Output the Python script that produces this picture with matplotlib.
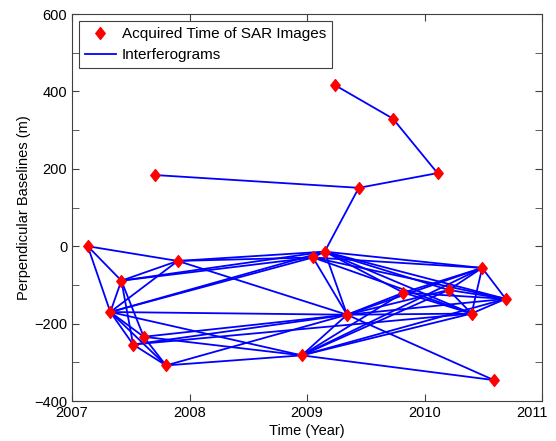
import matplotlib.pyplot as plt
from matplotlib.path import Path
from matplotlib.ticker import MultipleLocator

plt.rcParams['font.family'] = ['Liberation Sans', 'DejaVu Sans']

# acquisition time (decimal year) and perpendicular baseline (m)
dates = [2007.134, 2007.326, 2007.42, 2007.52, 2007.61, 2007.71, 2007.80, 2007.90,
         2008.955, 2009.05, 2009.15, 2009.24, 2009.34, 2009.44, 2009.73, 2009.82,
         2010.11, 2010.205, 2010.40, 2010.49, 2010.59, 2010.69]
bperp = [0, -170, -89, -254, -234, 184, -308, -38,
         -282, -29, -14, 416, -177, 151, 330, -120,
         189, -113, -174, -56, -346, -136]
years = [2007, 2008, 2009, 2010, 2011]

# interferogram pairs (indices into dates/bperp)
pairs = [(0, 7), (0, 2), (0, 1),
         (2, 7), (1, 2), (2, 4), (2, 3), (2, 9), (2, 10),
         (1, 7), (1, 4), (1, 3), (1, 6), (1, 9), (1, 10), (1, 12), (1, 8),
         (7, 9), (7, 10), (7, 12),
         (4, 6), (4, 12), (4, 8),
         (3, 6), (3, 12), (3, 18),
         (6, 8), (6, 12),
         (8, 12), (8, 15), (8, 17), (8, 19), (8, 18), (8, 21), (8, 20),
         (9, 10), (9, 12), (9, 18), (9, 21), (9, 19),
         (10, 12), (10, 19), (10, 21), (10, 18), (10, 17), (10, 15), (10, 13),
         (12, 15), (12, 17), (12, 19), (12, 21), (12, 18), (12, 20),
         (15, 19), (15, 21), (15, 18),
         (17, 19), (17, 21), (17, 18),
         (19, 21), (18, 19), (18, 21),
         (5, 13), (13, 16), (16, 14), (14, 11)]

# matlab-like diamond, a bit taller than wide
diamond = Path([(0, 1), (0.8, 0), (0, -1), (-0.8, 0), (0, 1)],
               [Path.MOVETO, Path.LINETO, Path.LINETO, Path.LINETO, Path.CLOSEPOLY])

fig = plt.figure(figsize=(5.56, 4.41), dpi=100)
ax = fig.add_axes([0.1295, 0.0907, 0.8455, 0.8773])

ax.plot(dates, bperp, color='red', marker=diamond, markersize=8.5, linestyle='none',
        zorder=3, label='Acquired Time of SAR Images')
for k, (i, j) in enumerate(pairs):
    ax.plot([dates[i], dates[j]], [bperp[i], bperp[j]], color='blue', linewidth=1.3,
            zorder=2, label='Interferograms' if k == 0 else None)

ax.set_xlim(years[0], years[-1])
ax.set_ylim(-400, 600)
# last year label is placed by hand so it stays inside the figure
ax.set_xticks(years, [str(y) for y in years[:-1]] + [''])
ax.annotate(str(years[-1]), xy=(years[-1], 0), xycoords=('data', 'axes fraction'),
            xytext=(-7, -3.5), textcoords='offset points', ha='center', va='top',
            fontsize=10.5)
ax.yaxis.set_major_locator(MultipleLocator(200))
ax.yaxis.set_minor_locator(MultipleLocator(100))
ax.tick_params(which='both', direction='in', top=True, right=True, labelsize=10.5,
               color='#404040')
ax.tick_params(which='both', length=5)
for sp in ax.spines.values():
    sp.set_color('#404040')
ax.set_xlabel('Time (Year)', fontsize=10.5, labelpad=3)
ax.set_ylabel('Perpendicular Baselines (m)', fontsize=10.5, labelpad=2)

leg = ax.legend(loc='upper left', fancybox=False, framealpha=1, edgecolor='#404040',
                fontsize=11, borderaxespad=0.45, handlelength=2.0, handletextpad=0.4,
                labelspacing=0.45)
leg.get_frame().set_linewidth(0.8)

fig.savefig('out.png', dpi=100)
